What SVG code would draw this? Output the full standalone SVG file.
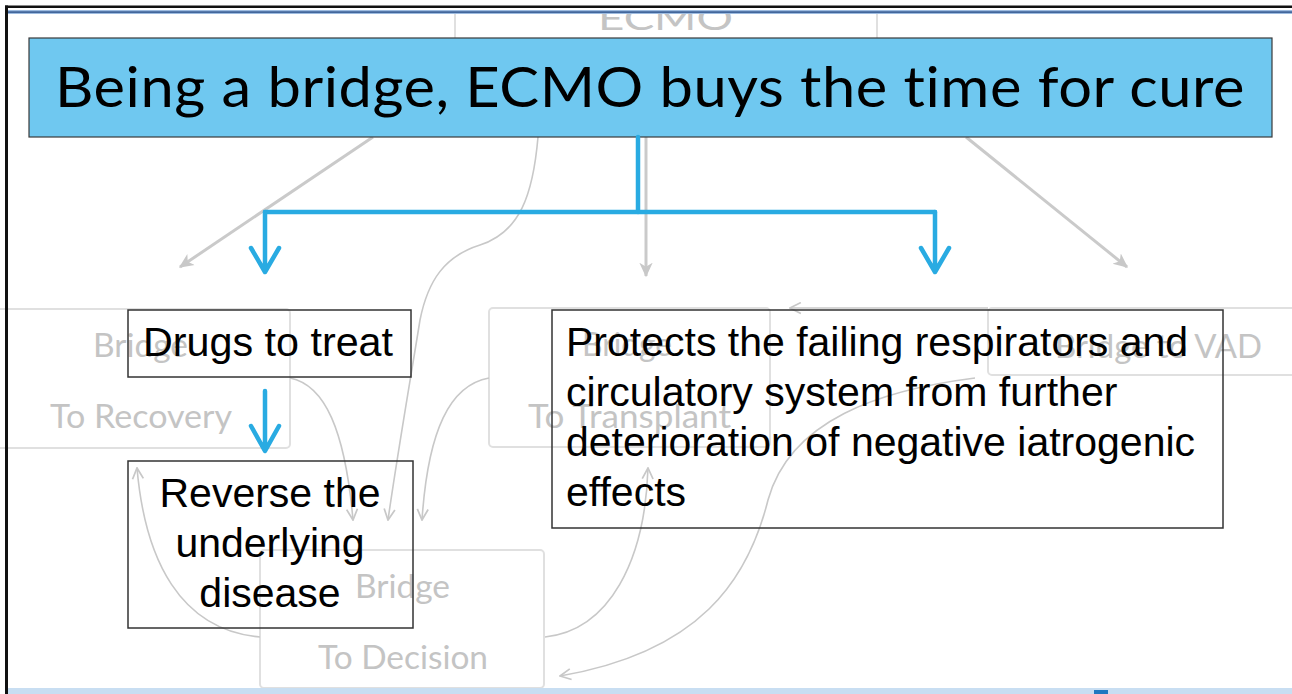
<svg xmlns="http://www.w3.org/2000/svg" width="1292" height="694" viewBox="0 0 1292 694">
<style>
text{font-variant-ligatures:none;font-feature-settings:"liga" 0}
.bg{fill:none;stroke:#e0e0e0;stroke-width:2}
.ft{font-family:Lato,"Open Sans",sans-serif;fill:#c4c4c4;font-size:33px}
.gl{fill:none;stroke:#cacaca;stroke-width:3}
.gc{fill:none;stroke:#c8c8c8;stroke-width:1.6}
.bl{fill:none;stroke:#29abe2;stroke-width:4.5;stroke-linecap:round;stroke-linejoin:round}
.box{fill:none;stroke:#333;stroke-width:1.5}
.t{font-family:"Liberation Sans",Arial,sans-serif;font-size:41px;fill:#000}
</style>
<defs>
<marker id="gh" viewBox="0 0 12 12" refX="10" refY="6" markerWidth="16" markerHeight="16" markerUnits="userSpaceOnUse" orient="auto">
<path d="M0,1 L11,6 L0,11 L3,6 Z" fill="#c8c8c8"/>
</marker>
<marker id="oh" viewBox="0 0 12 12" refX="11" refY="6" markerWidth="13" markerHeight="13" markerUnits="userSpaceOnUse" orient="auto">
<path d="M1,1 L11,6 L1,11" fill="none" stroke="#c8c8c8" stroke-width="1.6"/>
</marker>
</defs>
<rect width="1292" height="694" fill="#fff"/>
<g id="background">
<rect class="bg" x="455" y="-40" width="422" height="160"/>
<text class="ft" x="598" y="30" font-size="46" textLength="135" lengthAdjust="spacingAndGlyphs">ECMO</text>
<rect class="bg" x="-10" y="309" width="300" height="139" rx="4"/>
<text class="ft" x="93" y="357" textLength="95" lengthAdjust="spacingAndGlyphs">Bridge</text>
<text class="ft" x="50" y="428" textLength="182" lengthAdjust="spacingAndGlyphs">To Recovery</text>
<rect class="bg" x="489" y="308" width="281" height="139" rx="4"/>
<text class="ft" x="582" y="356" textLength="90" lengthAdjust="spacingAndGlyphs">Bridge</text>
<text class="ft" x="528" y="428" textLength="203" lengthAdjust="spacingAndGlyphs">To Transplant</text>
<rect class="bg" x="988" y="308" width="320" height="67" rx="4"/>
<text class="ft" x="1055" y="358" textLength="207" lengthAdjust="spacingAndGlyphs">Bridge to VAD</text>
<rect class="bg" x="260" y="550" width="284" height="138" rx="4"/>
<text class="ft" x="355" y="598" textLength="95" lengthAdjust="spacingAndGlyphs">Bridge</text>
<text class="ft" x="318" y="669" textLength="170" lengthAdjust="spacingAndGlyphs">To Decision</text>
<g id="bg-connectors">
<path class="gl" d="M373 137 L180 267" marker-end="url(#gh)"/>
<path class="gl" d="M646 137 L646 276" marker-end="url(#gh)"/>
<path class="gl" d="M966 137 L1127 267" marker-end="url(#gh)"/>
<path class="gc" d="M538 137 C533 195 520 232 480 245 C445 256 428 280 420 320 C412 370 398 450 388 520" marker-end="url(#oh)"/>
<path class="gc" d="M290 378 C325 385 345 430 353 520" marker-end="url(#oh)"/>
<path class="gc" d="M489 378 C450 385 428 430 422 520" marker-end="url(#oh)"/>
<path class="gc" d="M260 637 C180 630 145 560 137 468" marker-end="url(#oh)"/>
<path class="gc" d="M545 637 C610 630 645 560 648 468" marker-end="url(#oh)"/>
<path class="gc" d="M975 378 C880 390 790 420 768 500 C748 580 700 652 560 676" marker-end="url(#oh)"/>
<path class="gc" d="M988 308 L790 308" marker-end="url(#oh)"/>
</g>
</g>
<g id="frame">
<rect x="0" y="0" width="1292" height="14" fill="#fff"/>
<rect x="5" y="5.5" width="1287" height="2.5" fill="#111"/>
<rect x="8" y="10" width="1284" height="4" fill="#9dbbe0"/>
<rect x="8" y="11.3" width="1284" height="1.6" fill="#3a5f95"/>
<rect x="5" y="5.5" width="3" height="689" fill="#111"/>
<rect x="8" y="688" width="1284" height="6" fill="#c8def2"/>
<rect x="1094" y="690" width="14" height="4" fill="#1f78c0"/>
</g>
<g id="title">
<rect x="29" y="38" width="1243" height="99" fill="#6fc8f0" stroke="#3a3a3a" stroke-width="1.2"/>
<text x="55" y="107" font-family="Lato,'Open Sans',sans-serif" font-size="56" fill="#000" letter-spacing="0.5" textLength="1190" lengthAdjust="spacingAndGlyphs">Being a bridge, ECMO buys the time for cure</text>
</g>
<g id="connectors">
<path class="bl" d="M638 137 V212"/>
<path class="bl" d="M265 212 H935"/>
<path class="bl" d="M265 212 V271 M251 248 L265 272 L279 248"/>
<path class="bl" d="M935 212 V271 M921 248 L935 272 L949 248"/>
<path class="bl" d="M265 391 V450 M251 426 L265 451 L279 426"/>
</g>
<g id="drugs">
<rect class="box" x="128" y="310" width="283" height="67"/>
<text class="t" x="143" y="356" textLength="250" lengthAdjust="spacingAndGlyphs">Drugs to treat</text>
</g>
<g id="reverse">
<rect class="box" x="128" y="461" width="285" height="167"/>
<text class="t" text-anchor="middle"><tspan x="270" y="507">Reverse the</tspan><tspan x="270" y="557">underlying</tspan><tspan x="270" y="607">disease</tspan></text>
</g>
<g id="protects">
<rect class="box" x="552" y="310" width="671" height="218"/>
<text class="t"><tspan x="566" y="356">Protects the failing respirators and</tspan><tspan x="566" y="406">circulatory system from further</tspan><tspan x="566" y="456">deterioration of negative iatrogenic</tspan><tspan x="566" y="506">effects</tspan></text>
</g>
</svg>
